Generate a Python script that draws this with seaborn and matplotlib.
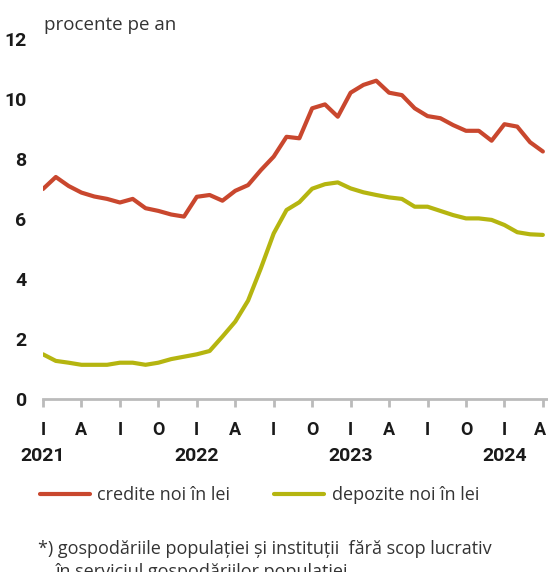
import numpy as np
import pandas as pd
import matplotlib
matplotlib.use("Agg")
import matplotlib.pyplot as plt
import matplotlib.transforms as mtransforms
import seaborn as sns

# ---- data (monthly, Jan 2021 - Apr 2024) ----
credite = [7.0, 7.4, 7.1, 6.88, 6.75, 6.67, 6.55, 6.67, 6.36, 6.27, 6.15, 6.08,
           6.74, 6.8, 6.61, 6.94, 7.13, 7.63, 8.08, 8.74, 8.69, 9.69, 9.82, 9.41,
           10.21, 10.47, 10.61, 10.21, 10.13, 9.69, 9.43, 9.36, 9.13, 8.94, 8.94, 8.61,
           9.16, 9.08, 8.56, 8.25]
depozite = [1.49, 1.27, 1.21, 1.14, 1.14, 1.14, 1.21, 1.21, 1.14, 1.21, 1.33, 1.41,
            1.49, 1.6, 2.08, 2.58, 3.28, 4.36, 5.52, 6.3, 6.56, 7.01, 7.16, 7.22,
            7.02, 6.89, 6.8, 6.72, 6.67, 6.41, 6.41, 6.27, 6.13, 6.02, 6.02, 5.97,
            5.8, 5.56, 5.49, 5.47]
series_names = ["credite noi în lei", "depozite noi în lei"]
month_labels = ["I", "A", "I", "O"] * 3 + ["I", "A"]
year_labels = ["2021", "2022", "2023", "2024"]
y_ticks = [0, 2, 4, 6, 8, 10, 12]
unit_label = "procente pe an"
footnote = ["*) gospodăriile populației și instituții  fără scop lucrativ",
            "în serviciul gospodăriilor populației"]

colors = {"credite noi în lei": "#C9472E", "depozite noi în lei": "#B5B510"}

n = len(credite)
df = pd.DataFrame({
    "luna": list(range(n)) * 2,
    "valoare": credite + depozite,
    "serie": [series_names[0]] * n + [series_names[1]] * n,
})

sns.set_style("white")
text_font = ["Open Sans", "DejaVu Sans"]
num_font = ["Roboto", "DejaVu Sans"]

fig = plt.figure(figsize=(5.48, 5.72), dpi=100)
ax = fig.add_axes([43 / 548, 1 - 399 / 572, 1 - 43 / 548, (399 - 39) / 572])

sns.lineplot(data=df, x="luna", y="valoare", hue="serie", palette=colors,
             linewidth=3.0, ax=ax, legend=True)

ax.set_xlim(0, 39.4)
ax.set_ylim(0, 12)
ax.set_xlabel("")
ax.set_ylabel("")

for s in ["top", "right", "left"]:
    ax.spines[s].set_visible(False)
ax.spines["bottom"].set_color("#BBBBBB")
ax.spines["bottom"].set_linewidth(2.0)

ax.set_yticks(y_ticks)
ax.set_yticklabels([str(v) for v in y_ticks], fontfamily=num_font,
                   fontsize=14, fontweight="bold", color="#1a1a1a")
ax.tick_params(axis="y", length=0, pad=12)

xt = np.arange(0, n, 3)
ax.set_xticks(xt)
ax.set_xticklabels(month_labels, fontfamily=num_font, fontsize=13,
                   fontweight="bold", color="#1a1a1a")
ax.tick_params(axis="x", direction="out", length=6, width=2,
               color="#BBBBBB", pad=10, bottom=True)
# nudge the last month label so it stays inside the picture
last = ax.get_xticklabels()[-1]
last.set_transform(last.get_transform() +
                   mtransforms.ScaledTranslation(-3 / 100, 0, fig.dpi_scale_trans))

# year labels under January ticks
for i, yl in enumerate(year_labels):
    ax.text(i * 12, -1.9, yl, ha="center", va="center",
            fontfamily=num_font, fontsize=14, fontweight="bold",
            color="#1a1a1a", transform=ax.transData, clip_on=False)

fig.text(44 / 548, 1 - 25 / 572, unit_label, ha="left", va="center",
         fontfamily=text_font, fontsize=13.5, color="#333333")

sns.move_legend(ax, loc="center left", bbox_to_anchor=(0.056, 1 - 495 / 572),
                bbox_transform=fig.transFigure, ncol=2, frameon=False, title=None,
                prop={"family": text_font, "size": 13}, handlelength=2.8,
                handletextpad=0.4, columnspacing=2.4, borderpad=0)
leg = ax.get_legend()
for t in leg.get_texts():
    t.set_color("#333333")
for h in leg.get_lines():
    h.set_linewidth(3.0)

fig.text(38 / 548, 1 - 549 / 572, footnote[0], ha="left", va="center",
         fontfamily=text_font, fontsize=13, color="#333333")
fig.text(56 / 548, 1 - 572 / 572, footnote[1], ha="left", va="center",
         fontfamily=text_font, fontsize=13, color="#333333")

fig.savefig("out.png", dpi=100)
